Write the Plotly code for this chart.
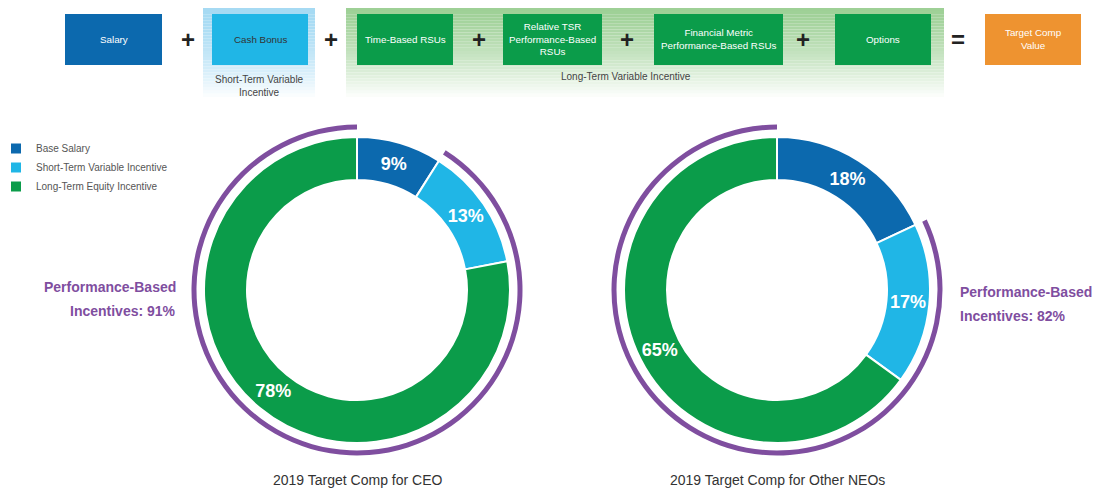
import plotly.graph_objects as go

# ---------------- data ----------------
components = ["Base Salary", "Short-Term Variable Incentive", "Long-Term Equity Incentive"]
ceo_values = [9, 13, 78]
neo_values = [18, 17, 65]
perf_based = [91, 82]          # performance-based share (CEO, other NEOs)
chart_titles = ["2019 Target Comp for CEO", "2019 Target Comp for Other NEOs"]
flow_boxes = ["Salary", "Cash Bonus", "Time-Based RSUs",
              "Relative TSR<br>Performance-Based<br>RSUs",
              "Financial Metric<br>Performance-Based RSUs", "Options",
              "Target Comp<br>Value"]
flow_ops = ["+", "+", "+", "+", "+", "="]
group_labels = ["Short-Term Variable<br>Incentive", "Long-Term Variable Incentive"]

# ---------------- styles ----------------
OFF = 8                      # page body margin offset
W, H = 1100 - OFF, 490 - OFF
C_DARK = "#0C69AE"
C_LIGHT = "#20B6E6"
C_GREEN = "#0B9C4A"
C_PURPLE = "#7F4E9F"
C_ORANGE = "#EE9330"
FONT = "Liberation Sans, Arial, sans-serif"
seg_colors = [C_DARK, C_LIGHT, C_GREEN]


def px(x):
    return (x - OFF) / W


def py(y):
    return 1 - (y - OFF) / H


def dom(cx, cy, r):
    return dict(x=[px(cx - r), px(cx + r)], y=[py(cy + r), py(cy - r)])


fig = go.Figure()

centers = [(357, 290), (777, 290)]
R_RING = 153
R_ARC = 165.5

for i, (vals, (cx, cy)) in enumerate(zip([ceo_values, neo_values], centers)):
    fig.add_trace(go.Pie(
        labels=components, values=vals, sort=False, direction="clockwise",
        rotation=0, hole=110 / 153, domain=dom(cx, cy, R_RING),
        marker=dict(colors=seg_colors, line=dict(color="white", width=2)),
        texttemplate="%{value}%", textposition="inside",
        insidetextorientation="horizontal",
        textfont=dict(family=FONT, size=18, color="white", weight="bold"),
        showlegend=(i == 0), hoverinfo="label+value", name=chart_titles[i],
    ))
    pb = perf_based[i]
    fig.add_trace(go.Pie(
        labels=["Fixed", "Performance-Based Incentives"], values=[100 - pb, pb],
        sort=False, direction="clockwise", rotation=0, hole=160.5 / 165.5,
        domain=dom(cx, cy, R_ARC),
        marker=dict(colors=["rgba(0,0,0,0)", C_PURPLE], line=dict(width=0)),
        textinfo="none", hoverinfo="skip", showlegend=False,
    ))

shapes = []


def gradient_panel(x0, x1, y0, y1, rgb, n=30, p=1.6):
    for k in range(n):
        t = k / (n - 1)
        a = max(0.0, 1 - t ** p)
        col = tuple(int(round(c * a + 255 * (1 - a))) for c in rgb)
        ya = y0 + (y1 - y0) * k / n
        yb = y0 + (y1 - y0) * (k + 1) / n
        shapes.append(dict(type="rect", xref="paper", yref="paper",
                           x0=px(x0), x1=px(x1), y0=py(yb), y1=py(ya),
                           fillcolor="rgb(%d,%d,%d)" % col, line=dict(width=0),
                           layer="below"))


gradient_panel(203, 315, 8, 100, (166, 218, 243))
gradient_panel(346, 944, 8, 100, (158, 208, 150), p=1.3)

box_pos = [(65, 162), (212, 308), (357, 453), (503, 602), (654, 783), (835, 931), (985, 1081)]
box_cols = [C_DARK, C_LIGHT, C_GREEN, C_GREEN, C_GREEN, C_GREEN, C_ORANGE]
box_txt = ["white", "#333333", "white", "white", "white", "white", "white"]
annotations = []
for (x0, x1), col, txt, tc in zip(box_pos, box_cols, flow_boxes, box_txt):
    shapes.append(dict(type="rect", xref="paper", yref="paper",
                       x0=px(x0), x1=px(x1), y0=py(65), y1=py(14),
                       fillcolor=col, line=dict(width=0)))
    annotations.append(dict(x=px((x0 + x1) / 2), y=py(39.5), xref="paper", yref="paper",
                            text=txt, showarrow=False, xanchor="center", yanchor="middle",
                            font=dict(family=FONT, size=9.8, color=tc)))

op_x = [188, 331, 479, 627, 803, 958]
for ox, op in zip(op_x, flow_ops):
    annotations.append(dict(x=px(ox), y=py(40), xref="paper", yref="paper", text="<b>%s</b>" % op,
                            showarrow=False, xanchor="center", yanchor="middle",
                            font=dict(family=FONT, size=24, color="#222222")))

annotations.append(dict(x=px(259), y=py(86), xref="paper", yref="paper", text=group_labels[0],
                        showarrow=False, xanchor="center", yanchor="middle",
                        font=dict(family=FONT, size=10, color="#444444")))
annotations.append(dict(x=px(626), y=py(77), xref="paper", yref="paper", text=group_labels[1],
                        showarrow=False, xanchor="center", yanchor="middle",
                        font=dict(family=FONT, size=10, color="#444444")))

# performance-based labels
perf_font = dict(family=FONT, size=14, color=C_PURPLE, weight="bold")
annotations += [
    dict(x=px(178), y=py(287), text="Performance-Based", xanchor="right"),
    dict(x=px(178), y=py(311), text="Incentives: %d%%" % perf_based[0], xanchor="right"),
    dict(x=px(958), y=py(292), text="Performance-Based", xanchor="left"),
    dict(x=px(958), y=py(316), text="Incentives: %d%%" % perf_based[1], xanchor="left"),
]
for a in annotations[-4:]:
    a.update(xref="paper", yref="paper", showarrow=False, yanchor="middle", font=perf_font)

for (cx, cy), t in zip(centers, chart_titles):
    annotations.append(dict(x=px(cx), y=py(480), xref="paper", yref="paper", text=t,
                            showarrow=False, xanchor="center", yanchor="middle",
                            font=dict(family=FONT, size=14, color="#333333")))

fig.update_layout(
    width=W, height=H, margin=dict(l=0, r=0, t=0, b=0, autoexpand=False),
    paper_bgcolor="white", plot_bgcolor="white",
    shapes=shapes, annotations=annotations,
    legend=dict(x=0, y=py(134), xanchor="left", yanchor="top", indentation=-12,
                font=dict(family=FONT, size=10, color="#555555"),
                bgcolor="rgba(0,0,0,0)", itemclick=False, tracegroupgap=0),
    font=dict(family=FONT),
)

fig.write_html("out.html")
